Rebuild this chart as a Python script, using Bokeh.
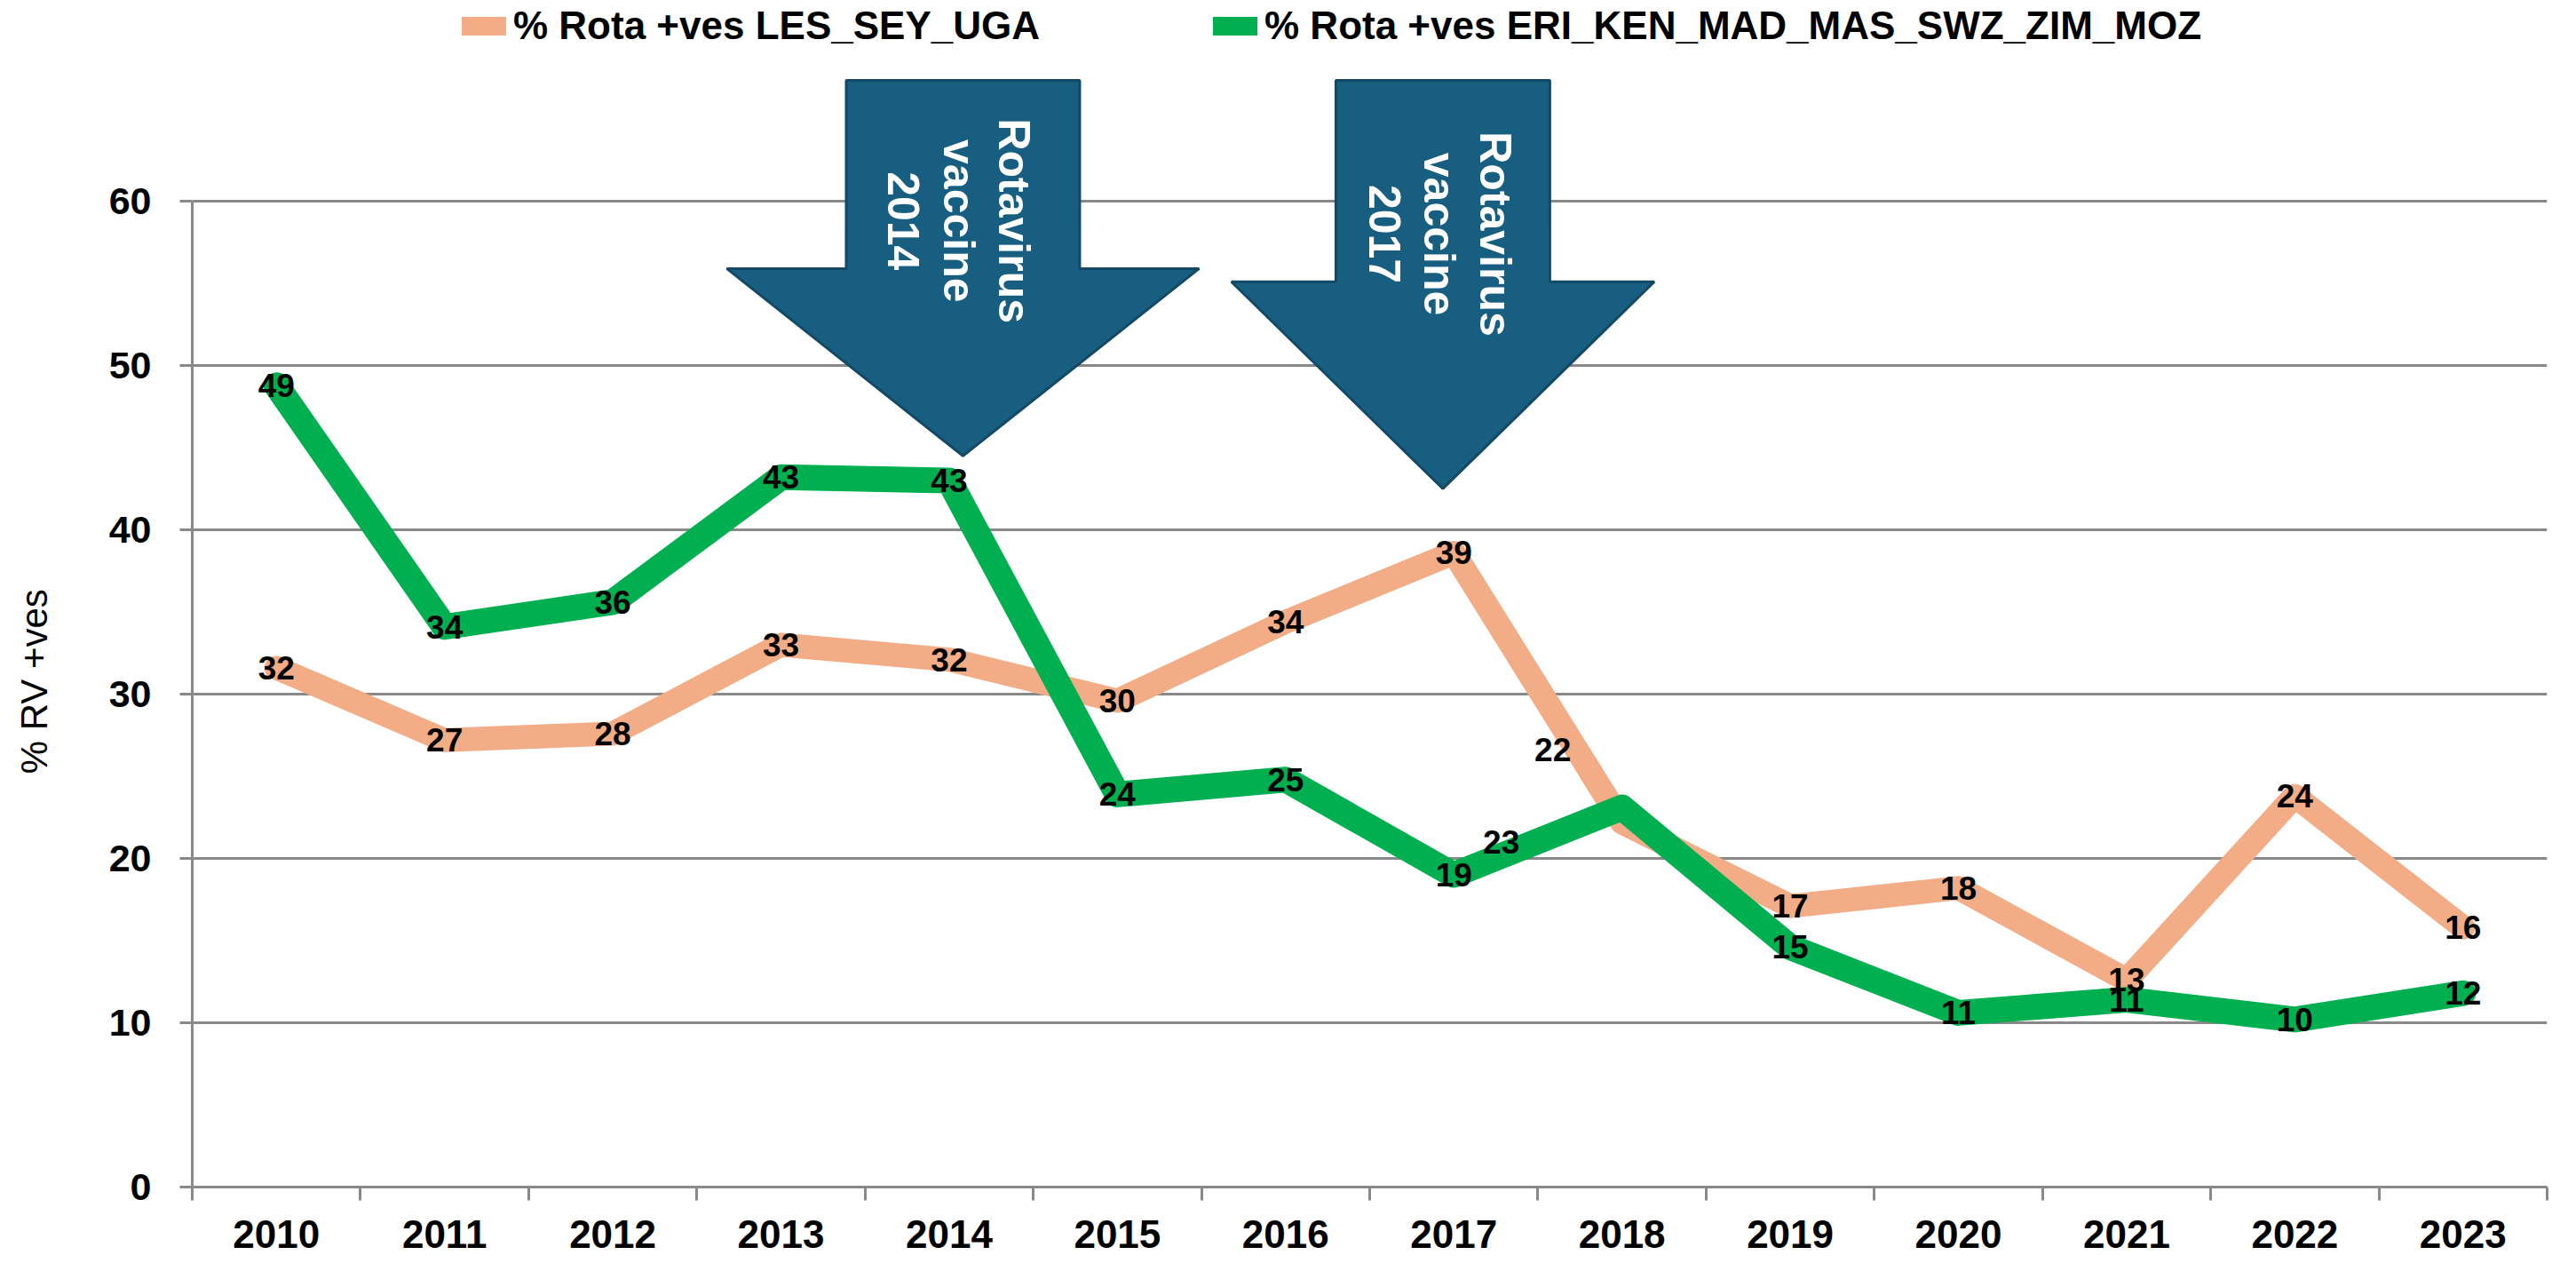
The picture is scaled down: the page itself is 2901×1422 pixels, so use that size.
import math
from bokeh.plotting import figure
from bokeh.models import (FactorRange, Range1d, LinearAxis, FixedTicker, ColumnDataSource,
                          Legend, LegendItem)
from bokeh.core.properties import value
from bokeh.embed import file_html
from bokeh.resources import INLINE

# ---------------- data ----------------
years = ["2010", "2011", "2012", "2013", "2014", "2015", "2016",
         "2017", "2018", "2019", "2020", "2021", "2022", "2023"]
les_sey_uga = [31.6, 27.2, 27.6, 33.0, 32.1, 29.6, 34.4, 38.6, 22.2, 17.1, 18.2, 12.6, 23.8, 15.8]
eri_ken_mad_mas_swz_zim_moz = [48.8, 34.1, 35.6, 43.2, 43.0, 23.9, 24.8, 19.0, 23.1, 14.6, 10.6, 11.4, 10.2, 11.8]
series_names = ["% Rota +ves LES_SEY_UGA", "% Rota +ves ERI_KEN_MAD_MAS_SWZ_ZIM_MOZ"]
y_ticks = [0, 10, 20, 30, 40, 50, 60]
y_title = "% RV +ves"
vaccine_years = ["2014", "2017"]
vaccine_texts = ["Rotavirus\nvaccine\n2014", "Rotavirus\nvaccine\n2017"]

# label placement tweaks (screen px) for the two 2018 labels
peach_label_dx = {"2018": -78}
peach_label_dy = {"2018": -82}
green_label_dx = {"2018": -136}
green_label_dy = {"2018": 39}

# arrow shapes (in category units / value units)
arrow_center_shift = [0.082, -0.065]
arrow_shaft_half = [0.694, 0.636]
arrow_head_half = [1.404, 1.257]
arrow_top = [67.35, 67.35]
arrow_head_base = [55.9, 55.1]
arrow_tip = [44.5, 42.5]
arrow_text_shift = [0.056, -0.083]
arrow_text_y = [58.8, 58.0]

PEACH = "#F2AC86"
GREEN = "#00B050"
ARROW_FILL = "#185E80"
ARROW_LINE = "#124A66"
GRID = "#898989"
FONT = "Liberation Sans"

W, H = 2901, 1422
p = figure(width=W, height=H, x_range=FactorRange(factors=years, range_padding=0),
           y_range=Range1d(0, 72.22), x_axis_type=None, output_backend="svg",
           toolbar_location=None, min_border_left=216, min_border_right=33,
           min_border_top=0, min_border_bottom=86)
p.outline_line_color = None
p.background_fill_color = "white"
p.border_fill_color = "white"

# y axis
ya = p.yaxis[0]
ya.ticker = FixedTicker(ticks=y_ticks, minor_ticks=[])
ya.bounds = (0, 60)
ya.axis_line_color = GRID
ya.axis_line_width = 3
ya.major_tick_line_color = GRID
ya.major_tick_line_width = 3
ya.major_tick_out = 14
ya.major_tick_in = 0
ya.minor_tick_line_color = None
ya.major_label_standoff = 32
ya.major_label_text_font = FONT
ya.major_label_text_font_style = "bold"
ya.major_label_text_font_size = "43px"
ya.major_label_text_color = "black"
# trailing wide spaces move the visible title down, next to the 0-60 span
ya.axis_label = y_title + "\u2003\u2003\u2003\u2003\u2002\u2009"
ya.axis_label_standoff = 58
ya.axis_label_text_font = FONT
ya.axis_label_text_font_style = "normal"
ya.axis_label_text_font_size = "42px"
ya.axis_label_text_color = "black"

p.ygrid.ticker = FixedTicker(ticks=y_ticks)
p.ygrid.grid_line_color = GRID
p.ygrid.grid_line_width = 3
p.xgrid.visible = False

# x axis: labels at category centres, ticks at category boundaries
centers = [i + 0.5 for i in range(len(years))]
bounds_ticks = [float(i) for i in range(len(years) + 1)]
xa = LinearAxis(ticker=FixedTicker(ticks=centers, minor_ticks=bounds_ticks),
                major_label_overrides={c: y for c, y in zip(centers, years)})
xa.axis_line_color = GRID
xa.axis_line_width = 3
xa.major_tick_line_color = None
xa.minor_tick_line_color = GRID
xa.minor_tick_line_width = 3
xa.minor_tick_out = 15
xa.minor_tick_in = 0
xa.major_tick_out = 15
xa.major_tick_in = 0
xa.major_label_standoff = 22
xa.major_label_text_font = FONT
xa.major_label_text_font_style = "bold"
xa.major_label_text_font_size = "44px"
xa.major_label_text_color = "black"
p.add_layout(xa, "below")

# arrows
for vy, dx, sh, hh, top, hb, tip in zip(vaccine_years, arrow_center_shift, arrow_shaft_half,
                                         arrow_head_half, arrow_top, arrow_head_base, arrow_tip):
    c = years.index(vy) + 0.5 + dx
    xs = [c - sh, c + sh, c + sh, c + hh, c, c - hh, c - sh]
    ys = [top, top, hb, hb, tip, hb, hb]
    p.patch(xs, ys, fill_color=ARROW_FILL, line_color=ARROW_LINE, line_width=3)

for vy, txt, dx, ty in zip(vaccine_years, vaccine_texts, arrow_text_shift, arrow_text_y):
    c = years.index(vy) + 0.5 + dx
    p.text(x=[c], y=[ty], text=[txt], angle=-math.pi / 2, text_align="center",
           text_baseline="middle", text_color="white", text_font=value(FONT),
           text_font_style="bold", text_font_size="50px", text_line_height=1.11)

# lines
src_p = ColumnDataSource(dict(x=years, y=les_sey_uga,
                              lab=[f"{v:.0f}" for v in les_sey_uga],
                              dx=[peach_label_dx.get(y, 0) for y in years],
                              dy=[peach_label_dy.get(y, 0) for y in years]))
src_g = ColumnDataSource(dict(x=years, y=eri_ken_mad_mas_swz_zim_moz,
                              lab=[f"{v:.0f}" for v in eri_ken_mad_mas_swz_zim_moz],
                              dx=[green_label_dx.get(y, 0) for y in years],
                              dy=[green_label_dy.get(y, 0) for y in years]))
p.line("x", "y", source=src_p, line_color=PEACH, line_width=27, line_join="round", line_cap="round")
p.line("x", "y", source=src_g, line_color=GREEN, line_width=29, line_join="round", line_cap="round")

for src in (src_p, src_g):
    p.text("x", "y", text="lab", x_offset="dx", y_offset="dy", source=src,
           text_align="center", text_baseline="middle", text_color="black",
           text_font=value(FONT), text_font_style="bold", text_font_size="37px")

# legend (dedicated swatch renderers, drawing nothing in the plot)
r1 = p.line(x=[years[0]], y=[float("nan")], line_color=PEACH, line_width=21, line_cap="round")
r2 = p.line(x=[years[0]], y=[float("nan")], line_color=GREEN, line_width=21, line_cap="round")
legend = Legend(items=[LegendItem(label=series_names[0], renderers=[r1], index=0),
                       LegendItem(label=series_names[1], renderers=[r2], index=0)],
                orientation="horizontal", location=(304, 1282))
legend.padding = 0
legend.margin = 0
legend.spacing = 195
legend.glyph_width = 50
legend.glyph_height = 46
legend.label_height = 46
legend.label_standoff = 8
legend.border_line_color = None
legend.background_fill_alpha = 0
legend.label_text_font = FONT
legend.label_text_font_style = "bold"
legend.label_text_font_size = "44px"
legend.label_text_color = "black"
p.add_layout(legend, "center")

open("out.html", "w").write(file_html(p, INLINE))
